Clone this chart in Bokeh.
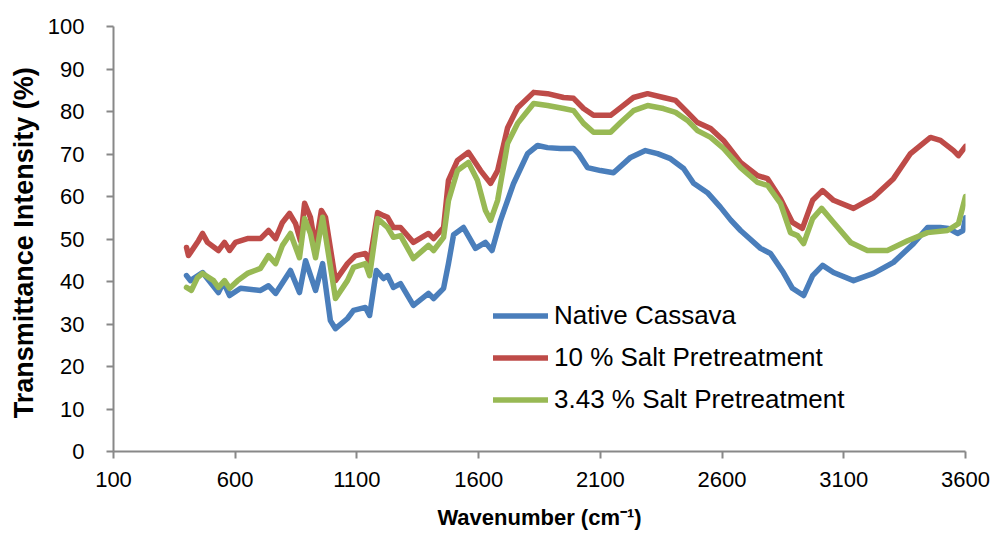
from bokeh.plotting import figure
from bokeh.models import FixedTicker, Range1d
from bokeh.embed import file_html
from bokeh.resources import INLINE

# ---- data ----
native_x = [400, 416, 466, 531, 552, 577, 622, 704, 737, 766, 827, 864, 889, 930, 959, 991, 1012,
            1061, 1086, 1135, 1152, 1180, 1209, 1226, 1250, 1279, 1332, 1394, 1415, 1456, 1476,
            1497, 1538, 1587, 1628, 1655, 1690, 1743, 1801, 1842, 1883, 1936, 1990, 2010, 2047,
            2101, 2154, 2224, 2285, 2335, 2388, 2442, 2483, 2540, 2593, 2635, 2676, 2758, 2799,
            2852, 2889, 2935, 2972, 3013, 3058, 3140, 3222, 3304, 3386, 3444, 3497, 3530, 3567,
            3590, 3600]
native_y = [41.4, 40.2, 42.1, 37.4, 39.8, 36.7, 38.4, 37.9, 39.0, 37.2, 42.6, 37.4, 44.9, 37.9,
            44.2, 30.8, 28.9, 31.3, 33.2, 33.9, 32.0, 42.6, 40.7, 41.4, 38.6, 39.5, 34.4, 37.2,
            36.0, 38.4, 44.2, 51.0, 52.7, 47.8, 49.2, 47.3, 54.4, 63.0, 70.1, 72.0, 71.5, 71.3,
            71.3, 70.1, 66.8, 66.1, 65.6, 69.2, 70.8, 70.1, 68.9, 66.6, 63.1, 60.9, 57.5, 54.5,
            52.0, 47.8, 46.6, 42.1, 38.4, 36.7, 41.4, 43.8, 42.1, 40.2, 41.9, 44.5, 48.9, 52.7,
            52.7, 52.5, 51.3, 52.0, 55.0]

salt10_x = [400, 408, 449, 466, 486, 531, 556, 577, 601, 650, 704, 737, 766, 794, 823, 848, 868,
            885, 909, 930, 954, 971, 1012, 1061, 1094, 1135, 1152, 1185, 1209, 1226, 1250, 1279,
            1332, 1394, 1415, 1456, 1476, 1513, 1558, 1608, 1649, 1678, 1719, 1760, 1826, 1883,
            1949, 1990, 2031, 2072, 2142, 2183, 2236, 2294, 2359, 2409, 2458, 2499, 2553, 2606,
            2676, 2746, 2787, 2840, 2889, 2930, 2972, 3013, 3058, 3140, 3222, 3304, 3374, 3456,
            3497, 3551, 3571, 3600]
salt10_y = [48.0, 46.1, 49.6, 51.3, 49.2, 47.3, 49.2, 47.3, 49.2, 50.1, 50.1, 52.0, 50.1, 53.9,
            56.0, 53.6, 49.6, 58.4, 55.1, 48.0, 56.7, 55.1, 40.2, 44.2, 46.1, 46.6, 44.5, 56.2,
            55.5, 55.1, 52.7, 52.7, 49.2, 51.3, 50.1, 52.7, 63.8, 68.5, 70.4, 66.1, 63.1, 66.1,
            76.2, 80.9, 84.5, 84.2, 83.3, 83.1, 80.7, 79.1, 79.1, 80.9, 83.3, 84.2, 83.3, 82.6,
            79.8, 77.4, 76.0, 73.2, 68.0, 64.9, 64.2, 59.5, 53.9, 52.5, 59.1, 61.4, 59.1, 57.2,
            59.8, 64.2, 70.1, 73.9, 73.2, 70.8, 69.6, 71.8]

salt343_x = [400, 420, 445, 466, 511, 531, 556, 577, 610, 650, 704, 737, 766, 794, 827, 864, 885,
             909, 930, 959, 1012, 1061, 1086, 1135, 1152, 1185, 1226, 1250, 1279, 1332, 1394,
             1415, 1456, 1476, 1513, 1558, 1595, 1628, 1649, 1678, 1719, 1760, 1826, 1883, 1949,
             1990, 2031, 2072, 2142, 2183, 2236, 2294, 2359, 2409, 2458, 2499, 2553, 2606, 2676,
             2746, 2787, 2840, 2881, 2910, 2935, 2972, 3009, 3058, 3128, 3197, 3279, 3362, 3444,
             3526, 3571, 3600]
salt343_y = [38.6, 37.9, 40.9, 41.9, 40.2, 38.6, 40.2, 38.4, 40.2, 41.9, 43.1, 46.1, 44.2, 48.5,
             51.3, 45.6, 54.8, 51.3, 45.6, 55.1, 36.0, 40.2, 43.3, 44.2, 41.4, 54.8, 52.7, 50.4,
             50.8, 45.4, 48.5, 47.3, 50.4, 59.0, 66.1, 68.0, 63.8, 56.7, 54.4, 59.1, 72.5, 77.2,
             81.9, 81.4, 80.7, 80.2, 77.2, 75.1, 75.1, 77.4, 80.2, 81.4, 80.7, 79.8, 77.9, 75.5,
             73.9, 71.3, 66.8, 63.3, 62.6, 58.4, 51.5, 50.8, 48.9, 54.8, 57.2, 53.9, 49.2, 47.3,
             47.3, 49.6, 51.5, 52.0, 53.6, 60.0]

x_ticks = [100, 600, 1100, 1600, 2100, 2600, 3100, 3600]
y_ticks = [0, 10, 20, 30, 40, 50, 60, 70, 80, 90, 100]

series_names = ["Native Cassava", "10 % Salt Pretreatment", "3.43 % Salt Pretreatment"]
series_colors = ["#4A7EBB", "#BE4B48", "#98B954"]

FONT = "Liberation Sans"

p = figure(width=998, height=533, output_backend="svg", toolbar_location=None,
           x_range=Range1d(100, 3600), y_range=Range1d(0, 100),
           min_border_left=113, min_border_right=33, min_border_top=26, min_border_bottom=82)
p.outline_line_color = None
p.background_fill_color = "white"
p.border_fill_color = "white"
p.xgrid.visible = False
p.ygrid.visible = False

for xs, ys, name, col in zip([native_x, salt10_x, salt343_x], [native_y, salt10_y, salt343_y],
                             series_names, series_colors):
    p.line(xs, ys, line_color=col, line_width=5.5, line_join="round", line_cap="round",
           legend_label=name)

for ax in (p.xaxis[0], p.yaxis[0]):
    ax.axis_line_color = "#888888"
    ax.axis_line_width = 2
    ax.major_tick_line_color = "#888888"
    ax.major_tick_line_width = 2
    ax.major_tick_in = 0
    ax.major_tick_out = 7
    ax.minor_tick_line_color = None
    ax.major_label_text_font = FONT
    ax.major_label_text_color = "black"
    ax.major_label_text_font_size = "22px"
    ax.axis_label_text_font = FONT
    ax.axis_label_text_font_style = "bold"
    ax.axis_label_text_color = "black"

p.xaxis.ticker = FixedTicker(ticks=x_ticks)
p.yaxis.ticker = FixedTicker(ticks=y_ticks)
p.xaxis.major_label_standoff = 13
p.yaxis.major_label_standoff = 22

p.xaxis.axis_label = "Wavenumber (cm\u207b\u00b9)"
p.xaxis.axis_label_text_font_size = "22px"
p.xaxis.axis_label_standoff = 15
p.yaxis.axis_label = "Transmittance  Intensity (%)"
p.yaxis.axis_label_text_font_size = "27px"
p.yaxis.axis_label_standoff = 6

lg = p.legend[0]
lg.location = (380, 36)
lg.background_fill_alpha = 0
lg.border_line_color = None
lg.padding = 0
lg.margin = 0
lg.glyph_width = 55
lg.glyph_height = 31
lg.label_height = 31
lg.spacing = 11
lg.label_standoff = 6
lg.label_text_font = FONT
lg.label_text_font_size = "26px"
lg.label_text_color = "black"

open("out.html", "w").write(file_html(p, INLINE))
